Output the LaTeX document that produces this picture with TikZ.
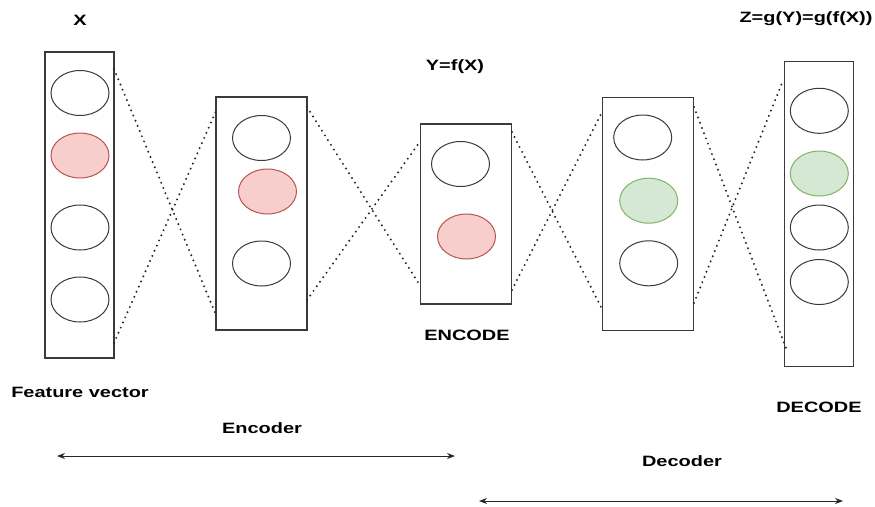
\documentclass[tikz,border=0pt]{standalone}
\usepackage{fontspec}
\setmainfont{Liberation Sans}
\usetikzlibrary{shapes.geometric,arrows.meta}
\newcommand\widetext[1]{\scalebox{1.33}[1]{#1}}
\definecolor{redfill}{HTML}{F8CECC}
\definecolor{redline}{HTML}{B85450}
\definecolor{greenfill}{HTML}{D5E8D4}
\definecolor{greenline}{HTML}{82B366}
\definecolor{edge}{HTML}{3A3A3A}
\tikzset{
  layer/.style={draw=edge, line width=1.1pt, rectangle, inner sep=0pt, fill=white},
  unit/.style={ellipse, draw=edge, line width=1pt, minimum width=58pt, minimum height=45pt, inner sep=0pt},
  hot/.style={unit, fill=redfill, draw=redline},
  code/.style={unit, fill=greenfill, draw=greenline},
  link/.style={line width=2.2pt, dash pattern=on 0pt off 5.6pt, line cap=round, black!85},
  label/.style={font=\fontsize{15}{18}\selectfont\bfseries, inner sep=0pt},
  span/.style={line width=1pt, black!85, {Stealth[length=8pt,width=6pt]}-{Stealth[length=8pt,width=6pt]}}
}
\begin{document}
\begin{tikzpicture}[x=1pt,y=-1pt]
\useasboundingbox (0,0) rectangle (875,506);
% layers
\node[layer, minimum width=69pt, minimum height=306pt] (b1) at (79.5,205) {};
\node[layer, minimum width=91pt, minimum height=233pt] (b2) at (261.5,213.5) {};
\node[layer, minimum width=91pt, minimum height=180pt] (b3) at (466.2,214) {};
\node[layer, minimum width=91pt, minimum height=233pt] (b4) at (648.3,213.7) {};
\node[layer, minimum width=69pt, minimum height=305pt] (b5) at (819.3,214.2) {};
% units
\node[unit] (u11) at (80,93) {};
\node[hot]  (u12) at (80,155.5) {};
\node[unit] (u13) at (80,227.5) {};
\node[unit] (u14) at (80,299.5) {};
\node[unit] (u21) at (261.5,138) {};
\node[hot]  (u22) at (267.5,191.5) {};
\node[unit] (u23) at (261.5,263.5) {};
\node[unit] (u31) at (460.5,164) {};
\node[hot]  (u32) at (466.5,236.5) {};
\node[unit] (u41) at (642.7,137.5) {};
\node[code] (u42) at (648.7,200.7) {};
\node[unit] (u43) at (648.7,263.3) {};
\node[unit] (u51) at (819.3,110.8) {};
\node[code] (u52) at (819.3,173.5) {};
\node[unit] (u53) at (819.3,227.5) {};
\node[unit] (u54) at (819.3,282) {};
% attachment points on the layer edges
\coordinate (a1) at (114,69);   \coordinate (a2) at (114,343);
\coordinate (c1) at (216,111);  \coordinate (c2) at (216,315);
\coordinate (d1) at (307,107);  \coordinate (d2) at (307,300);
\coordinate (e1) at (419,143);  \coordinate (e2) at (419,284);
\coordinate (f1) at (512,132);  \coordinate (f2) at (512,290);
\coordinate (g1) at (602,112);  \coordinate (g2) at (601,307);
\coordinate (h1) at (694,107);  \coordinate (h2) at (694,303);
\coordinate (k1) at (782,83);   \coordinate (k2) at (786,348);
% dotted links between layers
\draw[link] (a1) -- (c2);
\draw[link] (a2) -- (c1);
\draw[link] (d1) -- (e2);
\draw[link] (d2) -- (e1);
\draw[link] (f1) -- (g2);
\draw[link] (f2) -- (g1);
\draw[link] (h1) -- (k2);
\draw[link] (h2) -- (k1);
% labels
\node[label] (tx) at (80,20) {\widetext{X}};
\node[label] (ty) at (455,67) {\widetext{Y=f(X)}};
\node[label] (tz) at (806,19) {\widetext{Z=g(Y)=g(f(X))}};
\node[label] (tenc) at (467,335) {\widetext{ENCODE}};
\node[label] (tfeat) at (80,392) {\widetext{Feature vector}};
\node[label] (tdec) at (819,407) {\widetext{DECODE}};
\node[label] (tencoder) at (262,428) {\widetext{Encoder}};
\node[label] (tdecoder) at (682,461) {\widetext{Decoder}};
% spans
\coordinate (s1a) at (57,456);  \coordinate (s1b) at (455,456);
\coordinate (s2a) at (479,501); \coordinate (s2b) at (843,501);
\draw[span] (s1a) -- (s1b);
\draw[span] (s2a) -- (s2b);
\end{tikzpicture}
\end{document}
